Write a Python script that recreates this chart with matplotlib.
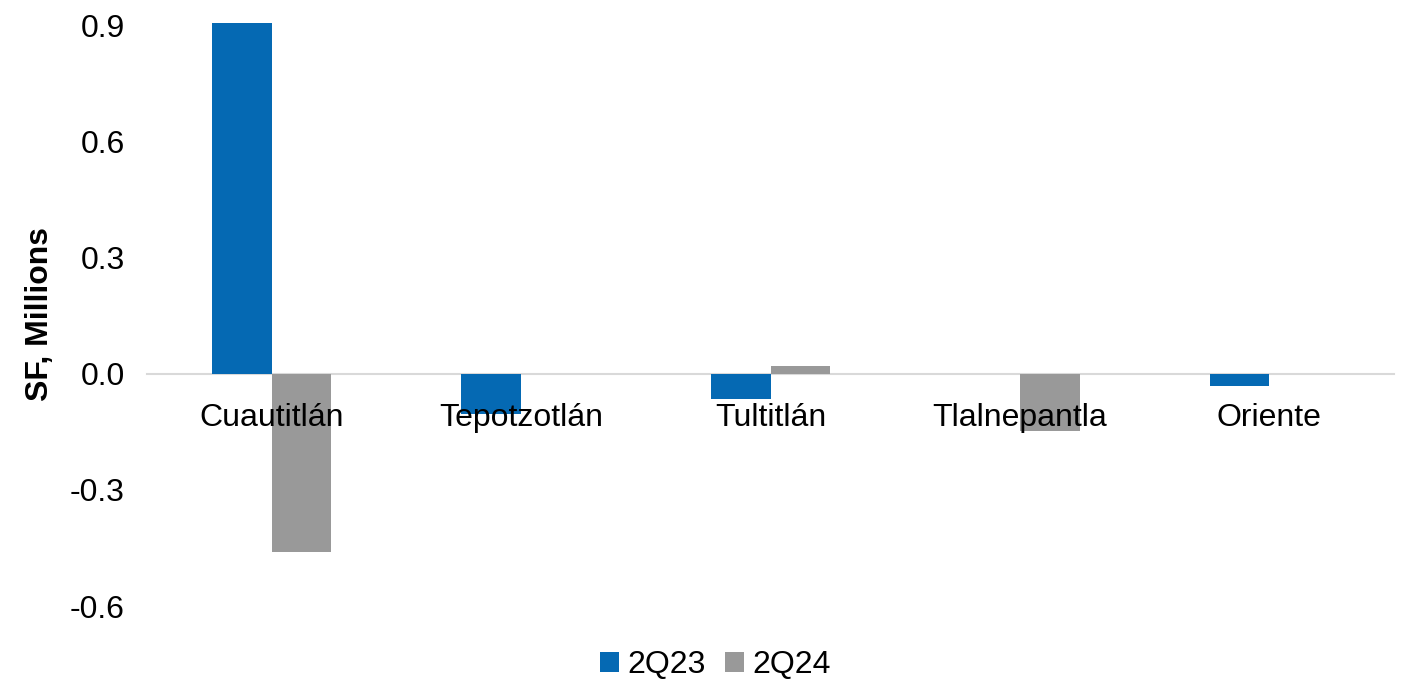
import matplotlib.pyplot as plt
import numpy as np

plt.rcParams['font.family'] = ['Liberation Sans', 'DejaVu Sans']

# data
categories = ['Cuautitlán', 'Tepotzotlán', 'Tultitlán', 'Tlalnepantla', 'Oriente']
series_names = ['2Q23', '2Q24']
values_2q23 = [0.905, -0.103, -0.065, 0.0, -0.031]
values_2q24 = [-0.46, 0.0, 0.02, -0.147, 0.0]
y_ticks = [-0.6, -0.3, 0.0, 0.3, 0.6, 0.9]

blue = '#0569B3'
gray = '#999999'
fs = 23

fig = plt.figure(figsize=(14.08, 6.79), dpi=100)
ax = fig.add_axes([147 / 1408, 73 / 679, (1394 - 147) / 1408, 583.3 / 679])

x = np.arange(len(categories))
w = 0.239
ax.bar(x - w / 2, values_2q23, width=w, color=blue, label=series_names[0], zorder=2)
ax.bar(x + w / 2, values_2q24, width=w, color=gray, label=series_names[1], zorder=2)

ax.set_xlim(-0.5, len(categories) - 0.5)
ax.set_ylim(-0.6, 0.906)
ax.set_yticks(y_ticks)
ax.set_yticklabels([f'{v:.1f}' for v in y_ticks], fontsize=fs)

# category axis sits on the zero line, labels drawn over the bars
for s in ['top', 'right', 'left']:
    ax.spines[s].set_visible(False)
ax.spines['bottom'].set_position(('data', 0))
ax.spines['bottom'].set_color('#d9d9d9')
ax.spines['bottom'].set_linewidth(1.5)
ax.spines['bottom'].set_zorder(1)
ax.xaxis.set_zorder(3)
ax.set_xticks(x)
ax.set_xticklabels(categories, fontsize=fs)
ax.tick_params(axis='x', length=0, pad=21)
ax.tick_params(axis='y', length=0, pad=16)

ax.set_ylabel('SF, Millions', fontsize=fs, fontweight='bold', labelpad=11)

fig.legend(loc='lower center', bbox_to_anchor=(0.508, -0.044), ncol=2, frameon=False,
           fontsize=fs, handlelength=0.6, handleheight=0.6, handletextpad=0.25,
           columnspacing=0.6)

fig.savefig('out.png', dpi=100)
